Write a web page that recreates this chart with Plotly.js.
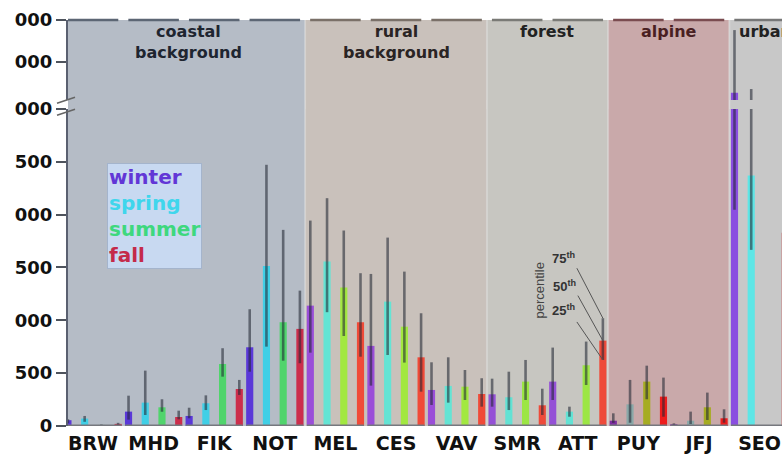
<!DOCTYPE html>
<html>
<head>
<meta charset="utf-8">
<script src="https://cdn.plot.ly/plotly-3.0.1.min.js"></script>
<style>html,body{margin:0;padding:0;background:#fff}#chart{width:782px;height:459px}</style>
</head>
<body>
<div id="chart"></div>
<script>
// ---- data ----
const sites = ['BRW','MHD','FIK','NOT','MEL','CES','VAV','SMR','ATT','PUY','JFJ','SEO'];
const siteGroup = ['coastal','coastal','coastal','coastal','rural','rural','rural','forest','forest','alpine','alpine','urban'];
const groupLabels = {coastal:'coastal<br>background', rural:'rural<br>background', forest:'forest', alpine:'alpine', urban:'urban'};
const seasons = ['winter','spring','summer','fall'];

const winterMed = [55,136,95,745,1139,758,341,300,420,50,16,3270];
const winterP25 = [25,60,73,514,694,382,199,183,246,30,8,2046];
const winterP75 = [65,287,173,1105,1944,1439,603,448,742,120,25,4760];

const springMed = [70,221,215,1515,1556,1177,379,272,136,205,50,2370];
const springP25 = [40,104,151,751,1077,672,221,151,88,31,19,1667];
const springP75 = [95,524,290,2472,2156,1783,650,514,183,436,136,3360];

const summerMed = [10,177,587,982,1310,940,372,420,575,420,177,null];
const summerP25 = [5,135,467,618,852,600,246,246,388,253,57,null];
const summerP75 = [15,253,736,1856,1850,1461,530,625,799,571,316,null];

const fallMed = [20,85,350,919,982,650,303,196,808,278,73,1830];
const fallP25 = [10,63,294,594,656,325,183,104,625,88,31,1200];
const fallP75 = [30,145,436,1281,1446,1067,452,353,1020,458,158,2400];

const lowerTicks = [0,500,1000,1500,2000,2500,3000];
const lowerTickText = ['0','500','000','500','000','500','000'];
const upperTicks = [4000,5000];
const upperTickText = ['000','000'];

// ---- styles ----
const palette = {
  coastal: ['#5a38d8','#40cfe6','#50d46c','#cc2e4c'],
  rural:   ['#9a4ed8','#64e4d4','#a2e840','#f04a38'],
  forest:  ['#9450d6','#62e2d4','#9ce644','#ee4a3a'],
  alpine:  ['#7e2ea0','#8aa8a8','#a6ac22','#ee1c1c'],
  urban:   ['#8a4ee0','#5ee6e6','#a2e840','#c8a0a0']
};
const bandFill = {coastal:'#b5bcc6', rural:'#c9c1bb', forest:'#c7c6c1', alpine:'#c9a9aa', urban:'#c8c8c8'};
const bandLine = {coastal:'#5c6674', rural:'#7a7068', forest:'#7a7a76', alpine:'#7a4c50', urban:'#777'};
const bandText = {coastal:'#1e2530', rural:'#2a2424', forest:'#222', alpine:'#4a1f22', urban:'#222'};

const med = [winterMed, springMed, summerMed, fallMed];
const p25 = [winterP25, springP25, summerP25, fallP25];
const p75 = [winterP75, springP75, summerP75, fallP75];
const offs = [-0.414,-0.138,0.138,0.414];
const bw = 0.118;

const traces = [];
['y','y2'].forEach(ya => {
  seasons.forEach((s, k) => {
    traces.push({
      type:'bar', name:s, x:sites, y:med[k], yaxis:ya, xaxis:'x',
      offset: offs[k]-bw/2, width: bw,
      marker:{color: sites.map((_, i) => palette[siteGroup[i]][k]), line:{width:0}},
      error_y:{type:'data', symmetric:false,
        array: med[k].map((m,i)=> m==null?null: p75[k][i]-m),
        arrayminus: med[k].map((m,i)=> m==null?null: m-p25[k][i]),
        width:0, thickness:2.6, color:'rgba(35,40,52,0.58)'},
      hoverinfo:'skip', showlegend:false
    });
  });
});

// bands
const shapes = [];
const annotations = [];
const groupsOrder = [];
siteGroup.forEach((g,i)=>{ if(!groupsOrder.length || groupsOrder[groupsOrder.length-1].g!==g) groupsOrder.push({g:g, a:i, b:i}); else groupsOrder[groupsOrder.length-1].b=i; });
groupsOrder.forEach((gr, gi) => {
  const x0 = gr.a - 0.5 - (gi===0 ? 0.5 : 0);
  const x1 = gr.b + 0.5 + (gi===groupsOrder.length-1 ? 1 : 0);
  shapes.push({type:'rect', xref:'x', yref:'paper', x0:x0, x1:x1, y0:0, y1:1, fillcolor:bandFill[gr.g], line:{width:0}, layer:'below'});
  if (gi>0) shapes.push({type:'line', xref:'x', yref:'paper', x0:x0, x1:x0, y0:0, y1:1, line:{color:'rgba(230,230,230,0.45)', width:2}, layer:'below'});
  const cx = gi===0 ? (gr.a - 0.41 + gr.b + 0.5)/2 + 0.03 : (gr.a + gr.b)/2;
  annotations.push({xref:'x', yref:'paper', x: gr.g==='urban' ? gr.a - 0.37 : cx, y:1, yanchor:'top', yshift:0,
    xanchor: gr.g==='urban' ? 'left' : 'center', showarrow:false, text:groupLabels[gr.g],
    font:{family:'DejaVu Sans', size:16, weight:'bold', color:bandText[gr.g]}});
});
// top border segments and group baselines, one per site
sites.forEach((s,i)=>{
  shapes.push({type:'line', xref:'x', yref:'paper', x0:(i===0? i-0.6 : i-0.417), x1:i+0.417, y0:1, y1:1, line:{color:bandLine[siteGroup[i]], width:2.5}, layer:'above'});
  shapes.push({type:'line', xref:'x', yref:'y', x0:i-0.47, x1:i+0.47, y0:0, y1:0, line:{color:'#76787e', width:3}, layer:'above'});
});
// axis break marks
shapes.push({type:'line', xref:'paper', yref:'paper', xsizemode:'pixel', ysizemode:'pixel', xanchor:0, yanchor:0.79, x0:-11, x1:7, y0:2, y1:8, line:{color:'#666', width:1.5}});
shapes.push({type:'line', xref:'paper', yref:'paper', xsizemode:'pixel', ysizemode:'pixel', xanchor:0, yanchor:0.79, x0:-11, x1:7, y0:-10, y1:-4, line:{color:'#666', width:1.5}});

// legend box
annotations.push({xref:'paper', yref:'paper', x:0.0546, y:0.648, xanchor:'left', yanchor:'top', showarrow:false, align:'left',
  bgcolor:'#c8d9f1', bordercolor:'#a4b4cc', borderwidth:1, borderpad:1,
  text:"<span style='color:#6236d6'>winter</span><br><span style='color:#3fd6ec'>spring</span><br><span style='color:#3ed87e'>summer</span><br><span style='color:#c42a4a'>fall</span>",
  font:{family:'DejaVu Sans', size:20, weight:'bold'}});

// percentile annotation on ATT fall
const ai = sites.indexOf('ATT');
const ax = ai + offs[3];
[[fallP75[ai],'75<sup>th</sup>',-26,50,-39,60],[fallMed[ai],'50<sup>th</sup>',-25,45,-38,55],[fallP25[ai],'25<sup>th</sup>',-26,38,-39,50]].forEach(a=>{
  shapes.push({type:'line', xref:'x', yref:'y', xsizemode:'pixel', ysizemode:'pixel', xanchor:ax, yanchor:a[0], x0:a[2], y0:a[3], x1:0, y1:0, line:{color:'#555', width:1}});
  annotations.push({xref:'x', yref:'y', x:ax, y:a[0], text:a[1], showarrow:false, xshift:a[4], yshift:a[5],
    font:{family:'Liberation Sans', size:13, weight:'bold', color:'#333'}});
});
annotations.push({xref:'x', yref:'y', x:ax, y:fallMed[ai], text:'percentile', showarrow:false, textangle:-90, xshift:-63, yshift:50,
  font:{family:'Liberation Sans', size:13, color:'#444'}});

const yStyle = {ticks:'outside', ticklen:10, tickwidth:2, tickcolor:'#4e535c', showline:true, linecolor:'#5a6070', linewidth:2,
  showgrid:false, zeroline:false, tickfont:{family:'DejaVu Sans', size:18, weight:'bold', color:'#111'}, fixedrange:true};

const layout = {
  width:782, height:459, margin:{l:68, r:0, t:20, b:33},
  paper_bgcolor:'#fff', plot_bgcolor:'#c6c6c6', barmode:'overlay', showlegend:false,
  xaxis:{type:'category', categoryorder:'array', categoryarray:sites, range:[-0.413, 11.37], ticks:'', showline:false, showgrid:false, zeroline:false,
    ticklabelstandoff:4, tickfont:{family:'DejaVu Sans', size:19, weight:'bold', color:'#111'}, fixedrange:true},
  yaxis: Object.assign({domain:[0,0.7808], range:[0,3000], tickmode:'array', tickvals:lowerTicks, ticktext:lowerTickText}, yStyle),
  yaxis2: Object.assign({domain:[0.803,1], range:[3100,5000], tickmode:'array', tickvals:upperTicks, ticktext:upperTickText, anchor:'x'}, yStyle),
  shapes:shapes, annotations:annotations
};
Plotly.newPlot('chart', traces, layout, {displayModeBar:false, staticPlot:true});
</script>
</body>
</html>
